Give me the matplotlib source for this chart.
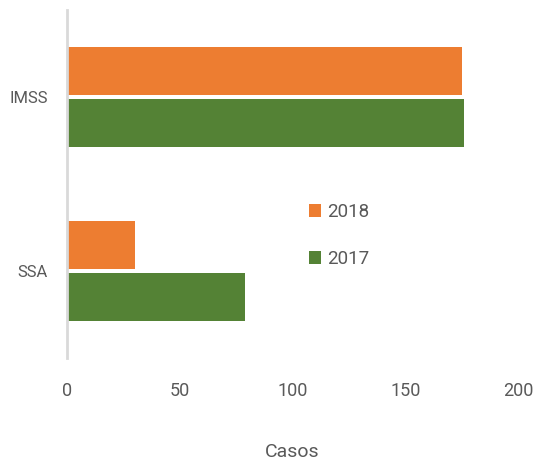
import matplotlib
matplotlib.use("Agg")
import matplotlib.pyplot as plt
from matplotlib import font_manager
import numpy as np

categories = ["SSA", "IMSS"]
years = ["2018", "2017"]
values_2018 = [30, 175]
values_2017 = [79, 176]
xticks = [0, 50, 100, 150, 200]

names = {f.name for f in font_manager.fontManager.ttflist}
fam = "Liberation Sans Narrow" if "Liberation Sans Narrow" in names else "Roboto"
plt.rcParams['font.family'] = [fam, 'DejaVu Sans']

orange = "#ED7D31"
green = "#548235"
txt = "#595959"

fig = plt.figure(figsize=(5.44, 4.61), dpi=100)
ax = fig.add_axes([67/544, 1-358/461, 451/544, 348/461])

y = np.arange(len(categories))
h = 0.276
off = 0.152
ax.barh(y + off, values_2018, height=h, color=orange, label=years[0])
ax.barh(y - off, values_2017, height=h, color=green, label=years[1])

ax.set_xlim(0, 200)
ax.set_ylim(-0.5, 1.5)
ax.set_xticks(xticks)
ax.set_xticklabels([str(t) for t in xticks])
ax.set_yticks(y)
ax.set_yticklabels(categories)
ax.tick_params(axis='x', length=0, pad=17, labelsize=13, labelcolor=txt)
ax.tick_params(axis='y', length=0, pad=14, labelsize=12, labelcolor=txt)
for s in ["top", "right", "bottom"]:
    ax.spines[s].set_visible(False)
ax.spines["left"].set_color("#d9d9d9")
ax.spines["left"].set_linewidth(2)

ax.set_xlabel("Casos", fontsize=14, color=txt, labelpad=31)

leg = ax.legend(loc="upper left", bbox_to_anchor=(309/544, 1-203/461), bbox_transform=fig.transFigure,
                frameon=False, fontsize=13.5, labelcolor=txt, handlelength=0.65, handleheight=0.65,
                handletextpad=0.3, labelspacing=1.55, borderaxespad=0, borderpad=0)

fig.savefig("out.png", dpi=100)
